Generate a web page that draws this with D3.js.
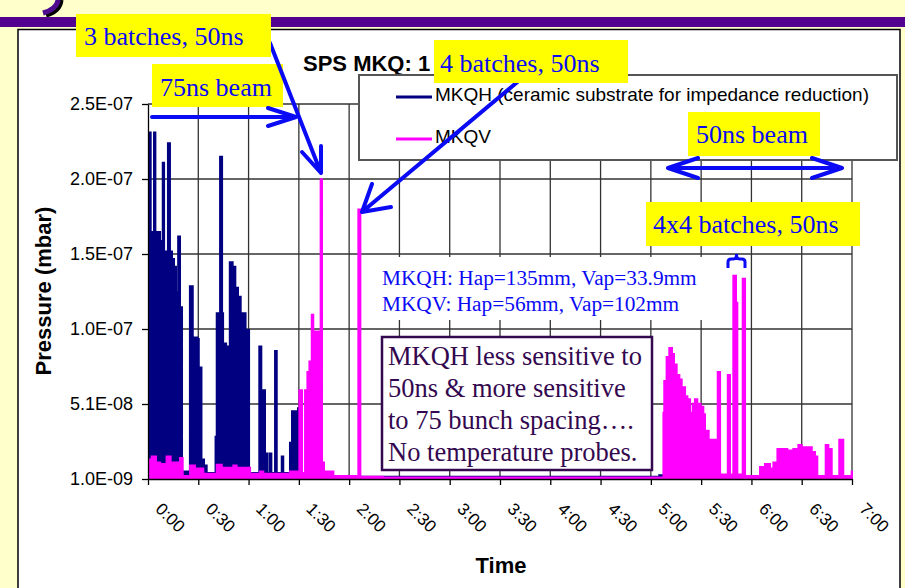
<!DOCTYPE html>
<html><head><meta charset="utf-8">
<script src="https://cdn.jsdelivr.net/npm/d3@7"></script>
<style>body{margin:0;background:#FFFFCC;} svg{display:block}</style>
</head><body><svg id="c" width="905" height="588"></svg>
<script>
// ---- data ----
const xTickMinutes = [0,30,60,90,120,150,180,210,240,270,300,330,360,390,420];
const xTickLabels = ["0:00","0:30","1:00","1:30","2:00","2:30","3:00","3:30","4:00","4:30","5:00","5:30","6:00","6:30","7:00"];
const yTickValues = [1.0e-9, 5.08e-8, 1.006e-7, 1.504e-7, 2.002e-7, 2.5e-7];
const yTickLabels = ["1.0E-09","5.1E-08","1.0E-07","1.5E-07","2.0E-07","2.5E-07"];
const seriesNames = ["MKQH (ceramic substrate for impedance reduction)", "MKQV"];
// [time in minutes, pressure in 1e-9 mbar]
const mkqhData = [
 [0,152],[0.8,231],[1.6,152],[2.0,165],[3.6,231],[4.4,165],[7.2,159],[8.0,147],[8.8,211],[9.6,152],[11.9,224],[13.1,152],[14.3,147],[15.5,142],[16.7,125],[18.0,162],[19.1,115],[20.3,6],
 [25.0,129],[26.7,30],[27.3,95],[29.6,94],[30.3,75],[31.9,14],[33.4,10],[35.0,5],
 [40.3,29],[41.0,111],[43.0,215],[44.2,111],[44.8,91],[46.6,89],[48.8,145],[50.5,142],[52.1,128],[53.7,122],[55.3,111],[58.2,100],[60.3,5],
 [66.4,89],[67.6,60],[69.8,18],[71.0,5],[72.4,18],[73.6,5],[75.8,86],[76.8,5],[79.8,16],[80.7,5],[84.7,25],[85.9,46],[88.7,24],[89.5,48],[90.3,4],
 [110,2.5],[305,3.5],[335,2.5],[420,2.5]
];
const mkqvData = [
 [0,14],[2.2,16],[4.8,12],[7.2,11],[11.1,16],[13.5,12],[19.1,15],[20.7,3],[25.1,10],[26.7,10],[28.0,8],[33.0,4.5],[41.0,10.5],[44.0,8.5],[50.9,10],[52.9,8.5],[60.9,4.5],[66.8,6],[68.8,4.5],[84.7,6],
 [90.3,60],[91.9,5],[93.7,60],[95.1,72],[96.3,79],[97.7,110],[98.6,99],[103.0,200],[103.8,12],[105.0,6],[110.6,3],[125.5,180],[126.7,2.5],[140,2],
 [307.5,45],[308.0,66],[309.4,82],[311.0,88],[312.6,84],[313.8,77],[315.4,70],[317.0,67],[318.4,62],[320.4,56],[321.8,54],[323.4,45],[325.0,51],[326.3,54],[327.7,51],[329.7,49],[331.3,44],[332.3,32],[333.3,33],[334.5,27],[338.9,4],
 [339.9,72],[341.3,4],[345.9,70],[347.2,4],[349.2,136],[350.8,118],[351.6,4],[354.8,134],[356.2,3],
 [365.1,9],[368.1,11],[371.1,8],[373.1,12],[374.7,4],[375.5,21],[381.4,14],[382.6,20],[385.0,21],[388.0,23.5],[390.0,22],[396.0,19],[397.9,16],[399.3,3],
 [404.3,23.5],[405.9,21],[407.9,3],[412.4,27],[414.8,3],[419.8,6],[420.5,6]
];

// ---- drawing ----
const svg = d3.select("#c");
const NAVY = "#000080", MAG = "#FF00FF", BLUE = "#0a0af5", PURP = "#33084f";

svg.append("rect").attr("width",905).attr("height",588).attr("fill","#FFFFCC");
// cut-off slide heading: only a descender tail is visible
svg.append("path").attr("d","M61,0 Q60,11 46,15").attr("fill","none").attr("stroke","#000").attr("stroke-width",5);
svg.append("path").attr("d","M58,0 Q57,9 43,13").attr("fill","none").attr("stroke","#4f0a8f").attr("stroke-width",5);
svg.append("rect").attr("x",0).attr("y",17).attr("width",905).attr("height",10).attr("fill","#520090");

// chart area
svg.append("rect").attr("x",18).attr("y",29.5).attr("width",882).attr("height",570)
  .attr("fill","#fff").attr("stroke","#000").attr("stroke-width",1.5);

const x = d3.scaleLinear().domain([0,420]).range([148,852]);
const y = d3.scaleLinear().domain([1e-9,2.5e-7]).range([479,104]);

// grid
const g = svg.append("g");
g.selectAll(".hg").data(yTickValues.slice(1)).join("line")
  .attr("x1",148).attr("x2",852).attr("y1",d=>y(d)).attr("y2",d=>y(d))
  .attr("stroke","#333").attr("stroke-width",1.3);
g.selectAll(".vg").data(xTickMinutes.slice(1)).join("line")
  .attr("x1",d=>x(d)).attr("x2",d=>x(d)).attr("y1",104).attr("y2",479)
  .attr("stroke","#333").attr("stroke-width",1.3);

// series
const area = d3.area().x(d=>x(d[0])).y0(y(1e-9)).y1(d=>y(d[1]*1e-9)).curve(d3.curveStepAfter);
const line = d3.line().x(d=>x(d[0])).y(d=>y(d[1]*1e-9)).curve(d3.curveStepAfter);
[[mkqhData,NAVY],[mkqvData,MAG]].forEach(([data,col])=>{
  svg.append("path").attr("d",area(data)).attr("fill",col);
  svg.append("path").attr("d",line(data)).attr("fill","none").attr("stroke",col).attr("stroke-width",2);
});

// axes
const ya = svg.append("g").attr("transform","translate(148,0)")
  .call(d3.axisLeft(y).tickValues(yTickValues).tickFormat((d,i)=>yTickLabels[i]).tickSize(6).tickSizeOuter(0).tickPadding(9));
ya.selectAll("text").attr("font-family","Arial").attr("font-size",18).attr("fill","#000");
ya.selectAll("line,path").attr("stroke","#000").attr("stroke-width",1.3);
const xa = svg.append("g").attr("transform","translate(0,479)")
  .call(d3.axisBottom(x).tickValues(xTickMinutes).tickFormat((d,i)=>xTickLabels[i]).tickSize(6).tickSizeOuter(0));
xa.selectAll("text").attr("font-family","Arial").attr("font-size",17).attr("fill","#000")
  .attr("text-anchor","start").attr("dy",null).attr("y",null)
  .attr("transform","translate(6,31) rotate(45)");
xa.selectAll("line,path").attr("stroke","#000").attr("stroke-width",1.3);

svg.append("text").attr("transform","translate(51,291) rotate(-90)").attr("text-anchor","middle")
  .attr("font-family","Arial").attr("font-weight","bold").attr("font-size",22).text("Pressure (mbar)");
svg.append("text").attr("x",501).attr("y",573).attr("text-anchor","middle")
  .attr("font-family","Arial").attr("font-weight","bold").attr("font-size",22).text("Time");

// title (partially hidden)
svg.append("text").attr("x",303).attr("y",71).attr("font-family","Arial").attr("font-weight","bold")
  .attr("font-size",22).text("SPS MKQ: 1");

// legend
svg.append("rect").attr("x",359).attr("y",75).attr("width",538).attr("height",85)
  .attr("fill","#fff").attr("stroke","#555").attr("stroke-width",2);
[[NAVY,97,101],[MAG,139,143]].forEach(([c,ly,ty],i)=>{
  svg.append("line").attr("x1",396).attr("x2",432).attr("y1",ly).attr("y2",ly).attr("stroke",c).attr("stroke-width",3);
  svg.append("text").attr("x",435).attr("y",ty).attr("font-family","Arial").attr("font-size",19).text(seriesNames[i]);
});

// aperture text on white background
const serif = "'Liberation Serif','Times New Roman',serif";
svg.append("rect").attr("x",378).attr("y",257).attr("width",328).attr("height",63).attr("fill","#fff");
svg.append("text").attr("x",382).attr("y",285).attr("font-family",serif).attr("font-size",21.3).attr("fill",BLUE)
  .text("MKQH: Hap=135mm, Vap=33.9mm");
svg.append("text").attr("x",382).attr("y",311).attr("font-family",serif).attr("font-size",21.3).attr("fill",BLUE)
  .text("MKQV: Hap=56mm, Vap=102mm");

// comment box
svg.append("rect").attr("x",382).attr("y",337).attr("width",270).attr("height",133)
  .attr("fill","#fff").attr("stroke",PURP).attr("stroke-width",2.5);
["MKQH less sensitive to","50ns & more sensitive","to 75 bunch spacing….","No temperature probes."].forEach((t,i)=>{
  svg.append("text").attr("x",388).attr("y",365+i*32).attr("font-family",serif).attr("font-size",26.5)
    .attr("fill",PURP).text(t);
});

// annotation helpers
function ybox(x0,y0,w,h,tx,ty,txt){
  svg.append("rect").attr("x",x0).attr("y",y0).attr("width",w).attr("height",h).attr("fill","#FFFF00");
  svg.append("text").attr("x",tx).attr("y",ty).attr("font-family",serif).attr("font-size",26).attr("fill",BLUE).text(txt);
}
function stroke(d){
  svg.append("path").attr("d",d).attr("fill","none").attr("stroke",BLUE).attr("stroke-width",4)
    .attr("stroke-linecap","round").attr("stroke-linejoin","round");
}

ybox(152,64,131,43,160,96,"75ns beam");
stroke("M152,117 L296,117 M268,108 L296,117 L268,126");
stroke("M546,58 L362,212 M391,207 L362,212 L372,184");
ybox(434,40,194,43,440,72,"4 batches, 50ns");
stroke("M270,43 L321,173 M302,152 L321,173 L321,146");
ybox(76,14,195,43,84,45,"3 batches, 50ns");
ybox(688,112,132,44,696,143,"50ns beam");
stroke("M668,168 L842,168 M698,158 L668,168 L698,178 M812,158 L842,168 L812,178");
ybox(646,202,214,44,653,233,"4x4 batches, 50ns");
svg.append("path").attr("d","M728,268 L728,262 Q728,259 731,259 L733.5,259 Q736.5,259 736.5,254 Q736.5,259 739.5,259 L742,259 Q745,259 745,262 L745,268")
  .attr("fill","none").attr("stroke",BLUE).attr("stroke-width",3);
</script></body></html>
